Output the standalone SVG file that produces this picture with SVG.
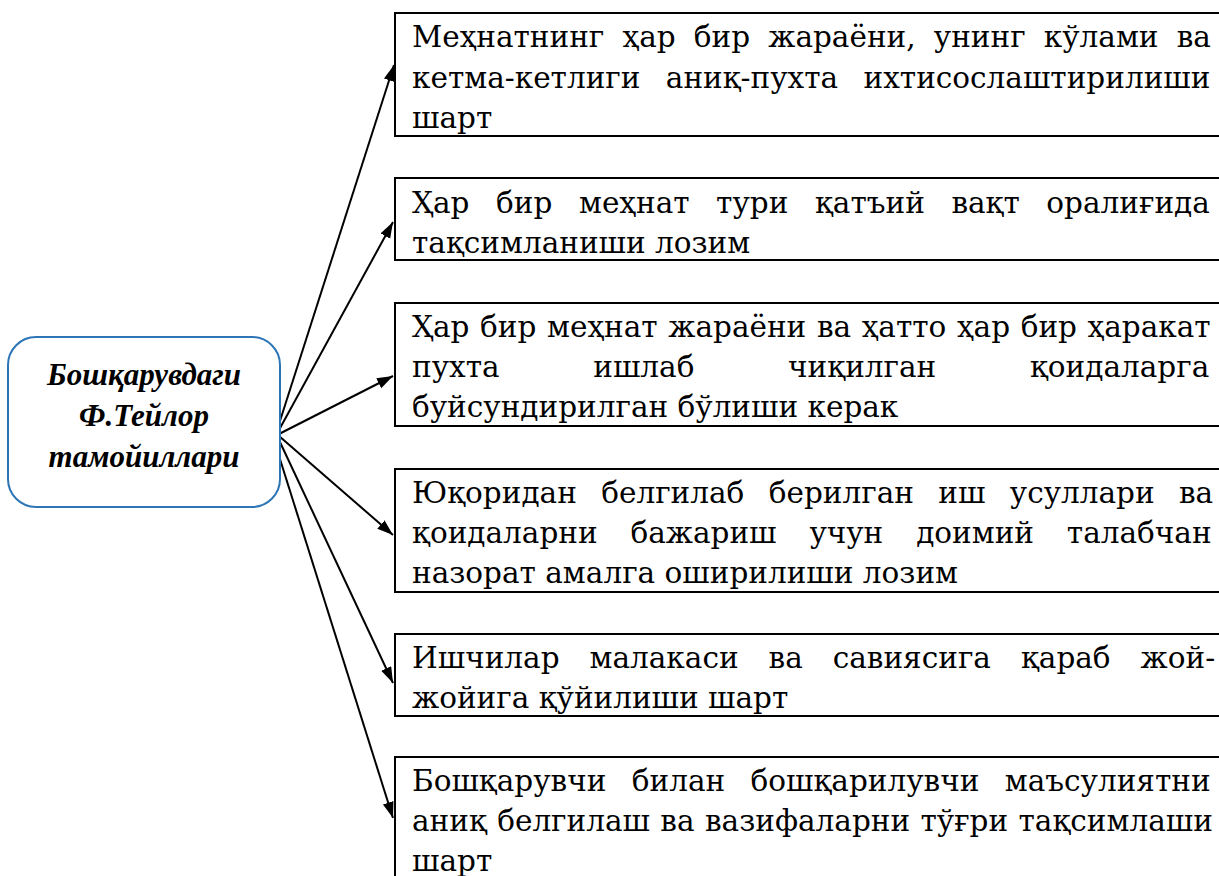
<svg xmlns="http://www.w3.org/2000/svg" width="1219" height="876" viewBox="0 0 1219 876">
<style>
.box{fill:#fff;stroke:#000;stroke-width:2}
.t{font-family:"DejaVu Serif","Liberation Serif",serif;font-size:29.5px;fill:#000}
.c{font-family:"Liberation Serif","Times New Roman",serif;font-size:31px;font-weight:bold;font-style:italic;text-anchor:middle;fill:#000}
.ln{stroke:#000;stroke-width:2;fill:none;marker-end:url(#ah)}
</style>
<defs>
<marker id="ah" markerUnits="userSpaceOnUse" markerWidth="18" markerHeight="12" refX="16" refY="5.5" orient="auto">
<path d="M0,0 L16,5.5 L0,11 z" fill="#000"/>
</marker>
</defs>
<rect width="1219" height="876" fill="#fff"/>
<g id="connectors">
<line class="ln" x1="279" y1="424" x2="394" y2="65"/>
<line class="ln" x1="279" y1="430" x2="393" y2="222"/>
<line class="ln" x1="279" y1="434" x2="393" y2="376"/>
<line class="ln" x1="279" y1="436" x2="393" y2="535"/>
<line class="ln" x1="279" y1="440" x2="393" y2="683"/>
<line class="ln" x1="279" y1="456" x2="393" y2="818"/>
</g>
<g id="center">
<rect x="8" y="337" width="272" height="170" rx="28" ry="28" fill="#fff" stroke="#2E75B6" stroke-width="2"/>
<text class="c" x="144" y="385">Бошқарувдаги</text>
<text class="c" x="144" y="426">Ф.Тейлор</text>
<text class="c" x="144" y="467">тамойиллари</text>
</g>
<g id="box1">
<rect class="box" x="395" y="13" width="840" height="123"/>
<text class="t" x="412" y="47" word-spacing="8.8">Меҳнатнинг ҳар бир жараёни, унинг кўлами ва</text>
<text class="t" x="412" y="88" word-spacing="16">кетма-кетлиги аниқ-пухта ихтисослаштирилиши</text>
<text class="t" x="412" y="128">шарт</text>
</g>
<g id="box2">
<rect class="box" x="395" y="178" width="840" height="82"/>
<text class="t" x="412" y="213" word-spacing="17.2">Ҳар бир меҳнат тури қатъий вақт оралиғида</text>
<text class="t" x="412" y="253">тақсимланиши лозим</text>
</g>
<g id="box3">
<rect class="box" x="395" y="303" width="840" height="123"/>
<text class="t" x="412" y="337" word-spacing="1.25">Ҳар бир меҳнат жараёни ва ҳатто ҳар бир ҳаракат</text>
<text class="t" x="412" y="377" word-spacing="84.3">пухта ишлаб чиқилган қоидаларга</text>
<text class="t" x="412" y="417">буйсундирилган бўлиши керак</text>
</g>
<g id="box4">
<rect class="box" x="395" y="469" width="840" height="123"/>
<text class="t" x="412" y="503" word-spacing="15">Юқоридан белгилаб берилган иш усуллари ва</text>
<text class="t" x="412" y="543" word-spacing="23.5">қоидаларни бажариш учун доимий талабчан</text>
<text class="t" x="412" y="583">назорат амалга оширилиши лозим</text>
</g>
<g id="box5">
<rect class="box" x="395" y="634" width="840" height="82"/>
<text class="t" x="412" y="668" word-spacing="20.6">Ишчилар малакаси ва савиясига қараб жой-</text>
<text class="t" x="412" y="708">жойига қўйилиши шарт</text>
</g>
<g id="box6">
<rect class="box" x="395" y="757" width="840" height="140"/>
<text class="t" x="412" y="791" word-spacing="16">Бошқарувчи билан бошқарилувчи маъсулиятни</text>
<text class="t" x="412" y="831" word-spacing="1">аниқ белгилаш ва вазифаларни тўғри тақсимлаши</text>
<text class="t" x="412" y="871">шарт</text>
</g>
</svg>
